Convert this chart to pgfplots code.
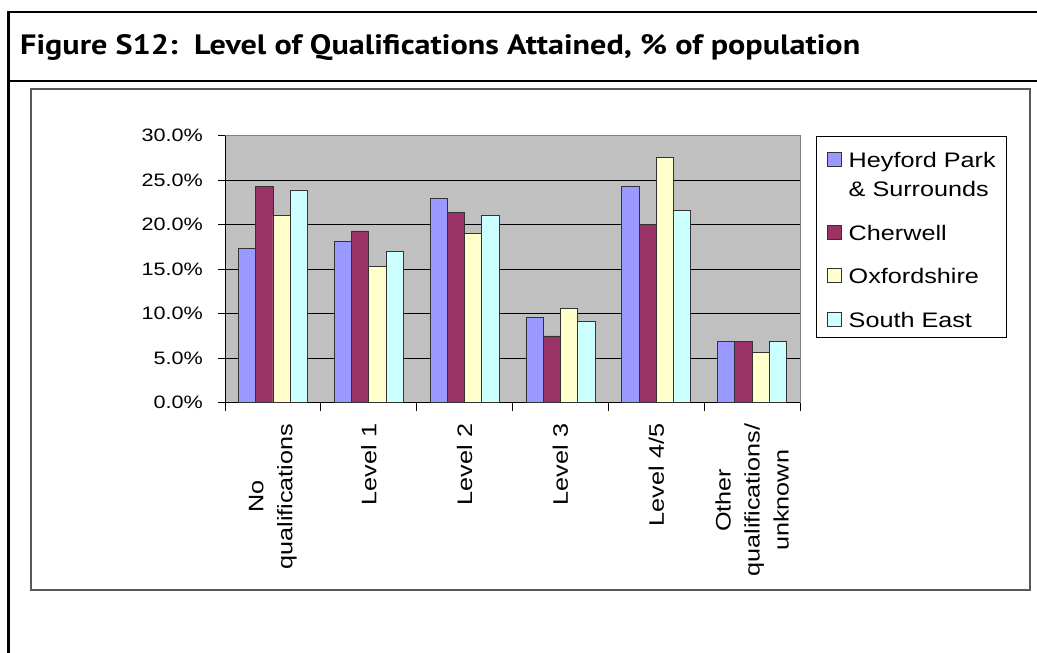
\documentclass[border=0pt]{standalone}
\usepackage{pgfplots}
\pgfplotsset{compat=1.18}
\usepackage{fontspec}
\setmainfont{Liberation Sans}
\newfontfamily\chartfont[FakeStretch=1.2]{Liberation Sans}
\newfontfamily\titlefont{PT Sans}
\definecolor{plotgray}{HTML}{C0C0C0}
\definecolor{heyford}{HTML}{9999FF}
\definecolor{cherwell}{HTML}{993366}
\definecolor{oxford}{HTML}{FFFFCC}
\definecolor{southeast}{HTML}{CCFFFF}
\pgfplotsset{sqlegend/.style={legend image code/.code={\draw[##1, line width=0.8pt] (0pt,1pt) rectangle (14pt,15pt);}}}
\begin{document}
\begin{tikzpicture}
\useasboundingbox (0pt,0pt) rectangle (1037pt,653pt);
\draw[line width=2.5pt] (8.5pt,0pt) -- (8.5pt,641pt) -- (1037pt,641pt);
\draw[line width=2.5pt] (8.5pt,572pt) -- (1037pt,572pt);
\node[anchor=base west, inner sep=0pt, font=\titlefont\bfseries\fontsize{28}{30}\selectfont] at (20pt,598pt) {\scalebox{1.15}[1]{Figure S12:\ \ Level of Qualifications Attained, \% of population}};
\draw[line width=1.5pt, black!65] (31pt,63pt) rectangle (1030pt,564pt);
\begin{axis}[
  at={(225pt,250.3pt)}, anchor=south west,
  scale only axis, width=575pt, height=267pt,
  xmin=-0.5, xmax=5.5, ymin=0, ymax=30,
  ybar=0pt, bar width=17.25pt,
  axis background/.style={fill=plotgray, draw=gray},
  axis lines*=left, axis line style={-, black, line width=1pt},
  tick align=outside,
  ytick={0,5,...,25}, extra y ticks={30}, extra y tick labels={30.0\%}, extra y tick style={grid=none},
  ymajorgrids, major grid style={black, line width=0.9pt},
  /pgf/number format/assume math mode=true,
  yticklabel={\pgfmathprintnumber[fixed,fixed zerofill,precision=1]{\tick}\%},
  yticklabel style={font=\chartfont\fontsize{18}{20}\selectfont, inner sep=0pt, xshift=-15pt},
  xtick={0,...,5},
  xticklabels={{No\\qualifications},{Level 1},{Level 2},{Level 3},{Level 4/5},{Other\\qualifications/\\unknown}},
  xticklabel style={font=\chartfont\fontsize{21}{29}\selectfont, yshift=-14pt, rotate=90, anchor=east, align=center, inner sep=0pt},
  minor xtick={-0.5,0.5,...,5.5},
  major tick length=7pt, minor tick length=8pt,
  every major x tick/.append style={draw=none},
  every minor x tick/.append style={black, line width=1pt},
  every major y tick/.append style={black, line width=1pt},
  legend style={at={(1.027,1)}, anchor=north west, draw=black, line width=0.8pt, fill=white,
    inner xsep=11pt, inner ysep=8.5pt, row sep=0pt, column sep=7pt,
    nodes={inner sep=0pt}, cells={anchor=base west}, font=\chartfont\fontsize{21}{29}\selectfont},
]
\addplot[fill=heyford, draw=black!80, line width=0.8pt, bar shift=-25.875pt, sqlegend] coordinates {(0,17.3) (1,18.1) (2,22.9) (3,9.6) (4,24.3) (5,6.9)};
\addlegendentry{\rule{0pt}{23pt}Heyford Park}
\addlegendimage{empty legend}
\addlegendentry{\rule{0pt}{27.5pt}\& Surrounds}
\addplot[fill=cherwell, draw=black!80, line width=0.8pt, bar shift=-8.625pt, sqlegend] coordinates {(0,24.3) (1,19.3) (2,21.4) (3,7.5) (4,20.0) (5,6.9)};
\addlegendentry{\rule{0pt}{42pt}Cherwell}
\addplot[fill=oxford, draw=black!80, line width=0.8pt, bar shift=8.625pt, sqlegend] coordinates {(0,21.0) (1,15.3) (2,19.0) (3,10.6) (4,27.6) (5,5.6)};
\addlegendentry{\rule{0pt}{42pt}Oxfordshire}
\addplot[fill=southeast, draw=black!80, line width=0.8pt, bar shift=25.875pt, sqlegend] coordinates {(0,23.9) (1,17.0) (2,21.0) (3,9.1) (4,21.6) (5,6.9)};
\addlegendentry{\rule{0pt}{42pt}South East}
\end{axis}
\end{tikzpicture}
\end{document}
